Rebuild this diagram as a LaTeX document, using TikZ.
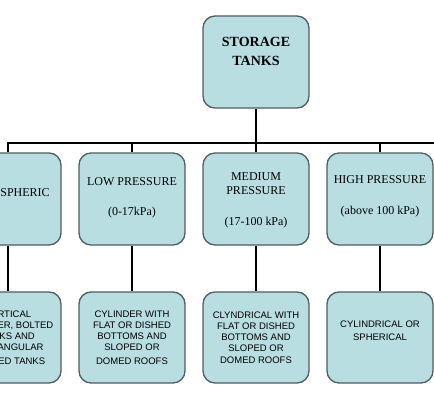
\documentclass[tikz,border=0pt]{standalone}
\usepackage{fontspec}
\setmainfont{Liberation Serif}
\newfontfamily\arialfont{Liberation Sans}
\usetikzlibrary{positioning}
\usepackage{xcolor}
\definecolor{TankBlue}{RGB}{185,222,226}
\definecolor{TankEdge}{RGB}{80,92,96}
\tikzset{
  rootbox/.style={draw=TankEdge, rounded corners=12pt, fill=TankBlue,
    line width=1.3pt, minimum width=106pt, minimum height=92pt, align=center,
    font=\fontsize{14}{19}\selectfont\bfseries, text depth=22pt},
  classbox/.style={draw=TankEdge, rounded corners=12pt, fill=TankBlue,
    line width=1.3pt, minimum width=106pt, minimum height=92pt, align=center,
    font=\fontsize{12}{14}\selectfont},
  typebox/.style={draw=TankEdge, rounded corners=12pt, fill=TankBlue,
    line width=1.3pt, minimum width=106pt, minimum height=91pt, align=center,
    font=\arialfont\fontsize{9.5}{11}\selectfont},
  link/.style={line width=2.6pt, black}
}

\begin{document}
\begin{tikzpicture}[x=1pt,y=-1pt]
      \useasboundingbox (0,0) rectangle (434,420);
      \clip (0,0) rectangle (434,420);
      \node[rootbox] (root) at (256,62) {STORAGE\\TANKS};
      \coordinate (bus) at (256,143);
      \coordinate (edge) at (440,143);
      \node[classbox, text depth=13pt] (atm) at (8,199) {ATMOSPHERIC};
      \node[classbox, text depth=4pt] (low) at (132,199) {LOW PRESSURE\\[16pt](0-17kPa)};
      \node[classbox, text depth=-5pt] (med) at (256,199) {MEDIUM\\PRESSURE\\[17pt](17-100 kPa)};
      \node[classbox, text depth=7pt] (high) at (380,199) {HIGH PRESSURE\\[17pt](above 100 kPa)};
      \node[typebox] (atmtype) at (8,337.5) {VERTICAL\\CYLINDER, BOLTED\\TANKS AND\\RECTANGULAR\\[3pt]WELDED TANKS};
      \node[typebox] (lowtype) at (132,337.5) {CYLINDER WITH\\FLAT OR DISHED\\BOTTOMS AND\\SLOPED OR\\[3pt]DOMED ROOFS};
      \node[typebox] (medtype) at (256,337.5) {CLYNDRICAL WITH\\FLAT OR DISHED\\BOTTOMS AND\\SLOPED OR\\[1pt]DOMED ROOFS};
      \node[typebox, text depth=14pt] (hightype) at (380,337.5) {CYLINDRICAL OR\\[2pt]SPHERICAL};
      % tree connectors
      \draw[link] (root) -- (bus);
      \draw[link] (atm) |- (edge);
      \draw[link] (low) -- (low |- bus);
      \draw[link] (med) -- (med |- bus);
      \draw[link] (high) -- (high |- bus);
      \draw[link] (atm) -- (atmtype);
      \draw[link] (low) -- (lowtype);
      \draw[link] (med) -- (medtype);
      \draw[link] (high) -- (hightype);
    \end{tikzpicture}
\end{document}
